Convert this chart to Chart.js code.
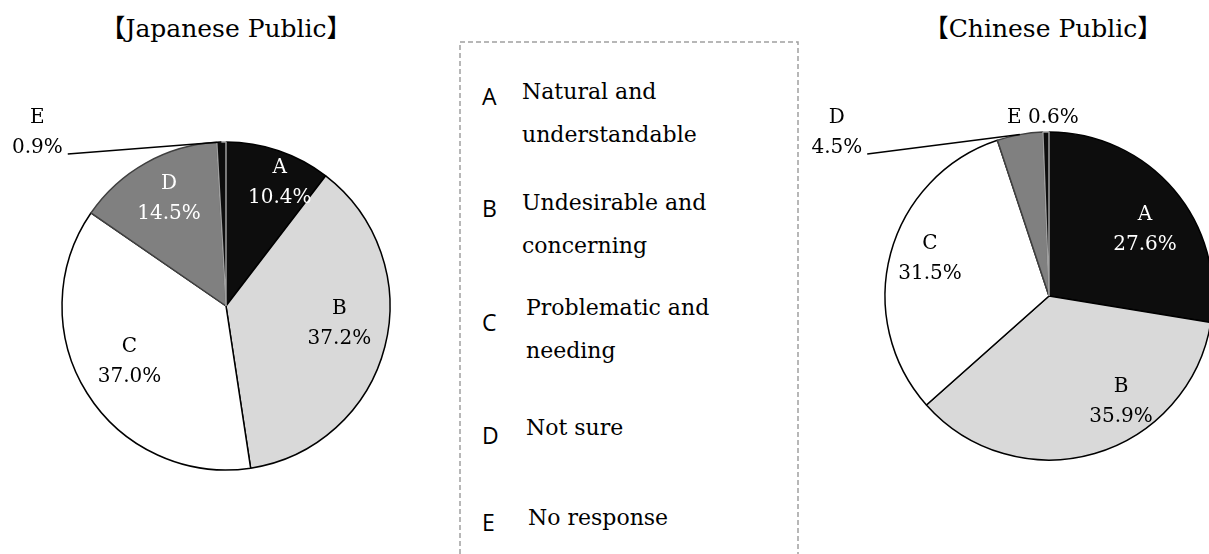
<!DOCTYPE html>
<html lang="en">
<head>
    <script src="https://cdn.jsdelivr.net/npm/chart.js"></script>
    <meta charset="UTF-8">
    <title>Japanese Public / Chinese Public</title>
    <style>
        html, body { margin: 0; padding: 0; background: #fff; overflow: hidden; }
        body { width: 1209px; height: 554px; position: relative; }
        .title { position: absolute; top: 8px; font: 25px "DejaVu Serif", "Noto Sans CJK JP", serif; color: #000; white-space: nowrap; transform: translateX(-50%); }
        .box { position: absolute; }
        #legendBox { position: absolute; left: 458px; top: 40px; }
        .letter { position: absolute; font: 23px "Open Sans", sans-serif; color: #000; transform: translateY(-50%); }
        .desc { position: absolute; font: 22px "DejaVu Serif", serif; line-height: 43px; color: #000; white-space: nowrap; }
    </style>
</head>
<body>
    <div class="title" style="left:226px">【Japanese Public】</div>
    <div class="title" style="left:1043px">【Chinese Public】</div>
    <svg id="legendBox" width="343" height="530">
        <path d="M2 530 L2 2 L340 2 L340 530" fill="none" stroke="#a0a0a0" stroke-width="1.5" stroke-dasharray="5 3"/>
    </svg>
    <div id="legend"></div>
    <div class="box" style="left:0px;top:0px;width:452px;height:554px"><canvas id="japanChart"></canvas></div>
    <div class="box" style="left:800px;top:0px;width:500px;height:554px"><canvas id="chinaChart"></canvas></div>
<script>
var letters = ['A', 'B', 'C', 'D', 'E'];
var descriptions = [
    ['Natural and', 'understandable'],
    ['Undesirable and', 'concerning'],
    ['Problematic and', 'needing'],
    ['Not sure'],
    ['No response']
];
var japanValues = [10.4, 37.2, 37.0, 14.5, 0.9];
var chinaValues = [27.6, 35.9, 31.5, 4.5, 0.6];

var fills = ['#0d0d0d', '#d9d9d9', '#ffffff', '#808080', '#0d0d0d'];
var edges = ['#000000', '#000000', '#000000', '#404040', '#a0a0a0'];

// legend in the dashed box
var legendTop = [91, 202, 307, 427, 517];
var legendLeft = [522, 522, 526, 526, 528];
var letterDrop = [5, 6, 15, 8, 5];
var legend = document.getElementById('legend');
for (var i = 0; i < letters.length; i++) {
    var l = document.createElement('div');
    l.className = 'letter';
    l.style.left = '482px';
    l.style.top = (legendTop[i] + letterDrop[i]) + 'px';
    l.textContent = letters[i];
    legend.appendChild(l);
    var d = document.createElement('div');
    d.className = 'desc';
    d.style.left = legendLeft[i] + 'px';
    d.style.top = (legendTop[i] - 21.5) + 'px';
    d.innerHTML = descriptions[i].join('<br>');
    legend.appendChild(d);
}

// labels: inside ones sit at a fraction t along the slice and r of the radius,
// outside ones are shifted from the slice's rim point
var pieLabels = {
    id: 'pieLabels',
    afterDatasetsDraw: function (chart, args, opts) {
        var ctx = chart.ctx;
        var meta = chart.getDatasetMeta(0);
        var values = chart.data.datasets[0].data;
        ctx.save();
        ctx.font = '20px "DejaVu Serif"';
        ctx.textAlign = 'center';
        ctx.textBaseline = 'middle';
        meta.data.forEach(function (arc, i) {
            var p = arc.getProps(['x', 'y', 'startAngle', 'endAngle', 'outerRadius'], true);
            var place = opts.places[i];
            var name = chart.data.labels[i];
            var pct = values[i].toFixed(1) + '%';
            if (place.inside) {
                var a = p.startAngle + (p.endAngle - p.startAngle) * place.t;
                var r = p.outerRadius * place.r;
                var lx = p.x + Math.cos(a) * r, ly = p.y + Math.sin(a) * r;
                ctx.fillStyle = place.color;
                ctx.fillText(name, lx, ly - 15);
                ctx.fillText(pct, lx, ly + 15);
            } else {
                var m = (p.startAngle + p.endAngle) / 2;
                var ax = p.x + Math.cos(m) * p.outerRadius;
                var ay = p.y + Math.sin(m) * p.outerRadius;
                var ox = ax + place.dx, oy = ay + place.dy;
                ctx.fillStyle = '#000';
                if (place.oneLine) {
                    ctx.fillText(name + ' ' + pct, ox, oy);
                } else {
                    ctx.fillText(name, ox, oy - 15);
                    ctx.fillText(pct, ox, oy + 15);
                }
                if (place.leader) {
                    ctx.strokeStyle = '#000';
                    ctx.lineWidth = 1.5;
                    ctx.beginPath();
                    ctx.moveTo(ox + ctx.measureText(pct).width / 2 + 5, oy + 21);
                    ctx.lineTo(ax, ay);
                    ctx.stroke();
                }
            }
        });
        ctx.restore();
    }
};

function makePie(id, values, padding, places) {
    return new Chart(document.getElementById(id).getContext('2d'), {
        type: 'pie',
        data: {
            labels: letters,
            datasets: [{
                data: values,
                backgroundColor: fills,
                borderColor: edges,
                borderWidth: 1.5
            }]
        },
        options: {
            responsive: true,
            maintainAspectRatio: false,
            animation: false,
            radius: 164,
            layout: { padding: padding },
            plugins: {
                legend: { display: false },
                tooltip: { enabled: false },
                pieLabels: { places: places }
            }
        },
        plugins: [pieLabels]
    });
}

makePie('japanChart', japanValues, { left: 60, right: 60, top: 140, bottom: 82 }, [
    { inside: true, t: 0.63, r: 0.82, color: '#fff' },
    { inside: true, t: 0.46, r: 0.70, color: '#000' },
    { inside: true, t: 0.515, r: 0.68, color: '#000' },
    { inside: true, t: 0.525, r: 0.74, color: '#fff' },
    { inside: false, dx: -184, dy: -9, leader: true }
]);

makePie('chinaChart', chinaValues, { left: 84, right: 86, top: 130, bottom: 92 }, [
    { inside: true, t: 0.56, r: 0.71, color: '#fff' },
    { inside: true, t: 0.36, r: 0.78, color: '#000' },
    { inside: true, t: 0.52, r: 0.76, color: '#000' },
    { inside: false, dx: -183, dy: -1.5, leader: true },
    { inside: false, dx: -3, dy: -14, oneLine: true }
]);
</script>
</body>
</html>
